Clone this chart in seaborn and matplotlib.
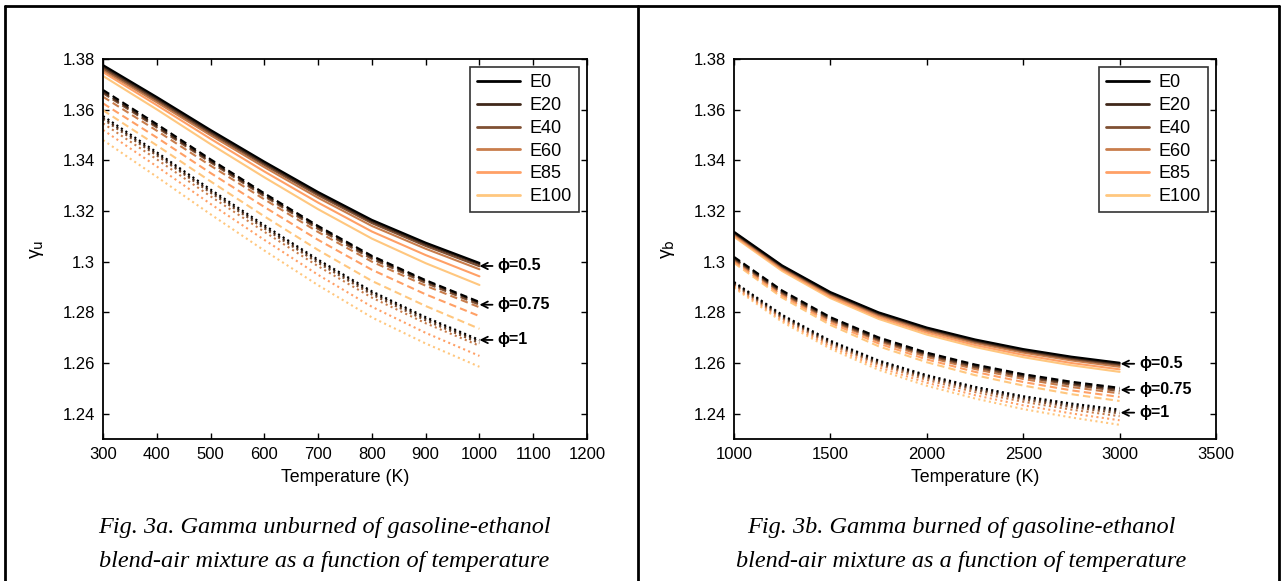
import matplotlib
matplotlib.use("Agg")
import matplotlib.pyplot as plt
import seaborn as sns
import pandas as pd
from matplotlib.lines import Line2D

# ---------------- data ----------------
blends = ["E0", "E20", "E40", "E60", "E85", "E100"]
phis = ["0.5", "0.75", "1"]
blend_colors = ["#000000", "#40281a", "#805033", "#c97d4c", "#ffa066", "#ffc77f"]

# unburned gamma, T = 300..1000 K
T_u = [300, 400, 500, 600, 700, 800, 900, 1000]
gu_phi05 = {
    "E0":   [1.3776, 1.3650, 1.3520, 1.3395, 1.3275, 1.3165, 1.3075, 1.2995],
    "E20":  [1.3770, 1.3644, 1.3514, 1.3389, 1.3269, 1.3159, 1.3069, 1.2990],
    "E40":  [1.3763, 1.3637, 1.3507, 1.3382, 1.3262, 1.3152, 1.3062, 1.2982],
    "E60":  [1.3756, 1.3629, 1.3499, 1.3373, 1.3252, 1.3141, 1.3051, 1.2970],
    "E85":  [1.3748, 1.3618, 1.3485, 1.3356, 1.3233, 1.3119, 1.3026, 1.2942],
    "E100": [1.3733, 1.3601, 1.3464, 1.3333, 1.3207, 1.3091, 1.2994, 1.2908],
}
gu_phi075 = {
    "E0":   [1.3678, 1.3543, 1.3404, 1.3270, 1.3141, 1.3023, 1.2927, 1.2841],
    "E20":  [1.3671, 1.3536, 1.3398, 1.3264, 1.3136, 1.3018, 1.2923, 1.2837],
    "E40":  [1.3665, 1.3530, 1.3392, 1.3258, 1.3129, 1.3011, 1.2916, 1.2830],
    "E60":  [1.3651, 1.3517, 1.3379, 1.3246, 1.3117, 1.3000, 1.2905, 1.2820],
    "E85":  [1.3625, 1.3490, 1.3350, 1.3216, 1.3086, 1.2968, 1.2871, 1.2785],
    "E100": [1.3598, 1.3459, 1.3317, 1.3179, 1.3046, 1.2924, 1.2825, 1.2735],
}
gu_phi1 = {
    "E0":   [1.3575, 1.3432, 1.3285, 1.3144, 1.3008, 1.2883, 1.2781, 1.2691],
    "E20":  [1.3568, 1.3425, 1.3278, 1.3137, 1.3002, 1.2877, 1.2775, 1.2685],
    "E40":  [1.3562, 1.3419, 1.3272, 1.3131, 1.2995, 1.2870, 1.2768, 1.2678],
    "E60":  [1.3546, 1.3404, 1.3258, 1.3118, 1.2982, 1.2858, 1.2757, 1.2668],
    "E85":  [1.3520, 1.3376, 1.3228, 1.3086, 1.2948, 1.2822, 1.2719, 1.2628],
    "E100": [1.3480, 1.3335, 1.3187, 1.3044, 1.2907, 1.2780, 1.2677, 1.2585],
}

# burned gamma, T = 1000..3000 K
T_b = [1000, 1250, 1500, 1750, 2000, 2250, 2500, 2750, 3000]
gb_phi05 = {
    "E0":   [1.3118, 1.2985, 1.2880, 1.2800, 1.2740, 1.2693, 1.2655, 1.2625, 1.2601],
    "E20":  [1.3115, 1.2982, 1.2877, 1.2797, 1.2737, 1.2689, 1.2651, 1.2621, 1.2597],
    "E40":  [1.3112, 1.2979, 1.2873, 1.2793, 1.2733, 1.2685, 1.2647, 1.2616, 1.2592],
    "E60":  [1.3108, 1.2974, 1.2869, 1.2788, 1.2727, 1.2679, 1.2641, 1.2610, 1.2585],
    "E85":  [1.3103, 1.2969, 1.2862, 1.2781, 1.2720, 1.2671, 1.2632, 1.2600, 1.2575],
    "E100": [1.3098, 1.2963, 1.2856, 1.2774, 1.2712, 1.2663, 1.2623, 1.2591, 1.2565],
}
gb_phi075 = {
    "E0":   [1.3019, 1.2886, 1.2781, 1.2701, 1.2641, 1.2594, 1.2556, 1.2526, 1.2502],
    "E20":  [1.3015, 1.2882, 1.2777, 1.2696, 1.2636, 1.2589, 1.2551, 1.2520, 1.2496],
    "E40":  [1.3011, 1.2877, 1.2772, 1.2691, 1.2631, 1.2583, 1.2545, 1.2514, 1.2489],
    "E60":  [1.3007, 1.2873, 1.2767, 1.2686, 1.2624, 1.2576, 1.2537, 1.2505, 1.2480],
    "E85":  [1.3001, 1.2866, 1.2759, 1.2677, 1.2614, 1.2565, 1.2525, 1.2492, 1.2466],
    "E100": [1.2995, 1.2858, 1.2750, 1.2666, 1.2603, 1.2552, 1.2511, 1.2477, 1.2450],
}
gb_phi1 = {
    "E0":   [1.2920, 1.2790, 1.2688, 1.2610, 1.2552, 1.2506, 1.2469, 1.2440, 1.2416],
    "E20":  [1.2916, 1.2786, 1.2683, 1.2605, 1.2547, 1.2500, 1.2463, 1.2433, 1.2409],
    "E40":  [1.2912, 1.2781, 1.2678, 1.2599, 1.2541, 1.2494, 1.2456, 1.2426, 1.2401],
    "E60":  [1.2908, 1.2776, 1.2672, 1.2593, 1.2533, 1.2485, 1.2447, 1.2416, 1.2390],
    "E85":  [1.2902, 1.2769, 1.2664, 1.2583, 1.2522, 1.2473, 1.2433, 1.2401, 1.2374],
    "E100": [1.2897, 1.2762, 1.2656, 1.2573, 1.2510, 1.2460, 1.2418, 1.2385, 1.2356],
}

xticks_u = [300, 400, 500, 600, 700, 800, 900, 1000, 1100, 1200]
xticks_b = [1000, 1500, 2000, 2500, 3000, 3500]
yticks = [1.24, 1.26, 1.28, 1.30, 1.32, 1.34, 1.36, 1.38]
ytick_labels = ["1.24", "1.26", "1.28", "1.3", "1.32", "1.34", "1.36", "1.38"]

phi_labels_u = [("ϕ=0.5", 1.2983), ("ϕ=0.75", 1.2830), ("ϕ=1", 1.2691)]
phi_labels_b = [("ϕ=0.5", 1.2597), ("ϕ=0.75", 1.2494), ("ϕ=1", 1.2404)]

captions = [
    ["Fig. 3a. Gamma unburned of gasoline-ethanol",
     "blend-air mixture as a function of temperature"],
    ["Fig. 3b. Gamma burned of gasoline-ethanol",
     "blend-air mixture as a function of temperature"],
]


def to_long(T, tables):
    rows = []
    for phi, tab in zip(phis, tables):
        for b in blends:
            for t, v in zip(T, tab[b]):
                rows.append({"T": t, "gamma": v, "blend": b, "phi": phi})
    return pd.DataFrame(rows)


df_u = to_long(T_u, [gu_phi05, gu_phi075, gu_phi1])
df_b = to_long(T_b, [gb_phi05, gb_phi075, gb_phi1])

# ---------------- style ----------------
sns.set_theme(style="ticks")
plt.rcParams["font.family"] = ["Liberation Sans", "DejaVu Sans"]
plt.rcParams["text.color"] = "black"
plt.rcParams["axes.labelcolor"] = "black"
plt.rcParams["xtick.color"] = "black"
plt.rcParams["ytick.color"] = "black"
plt.rcParams["xtick.direction"] = "in"
plt.rcParams["ytick.direction"] = "in"
plt.rcParams["xtick.top"] = True
plt.rcParams["ytick.right"] = True

fig = plt.figure(figsize=(12.84, 5.81), dpi=100)
W, H = 1284.0, 581.0
ax1 = fig.add_axes([103 / W, 1 - 439 / H, (587 - 103) / W, (439 - 59) / H])
ax2 = fig.add_axes([734 / W, 1 - 439 / H, (1216 - 734) / W, (439 - 59) / H])

palette = dict(zip(blends, blend_colors))
dashes = {"0.5": "", "0.75": (3.5, 2.0), "1": (1.0, 1.6)}

for ax, df, xt, xlim, ylab, labs, xlab_pos, arrow in [
    (ax1, df_u, xticks_u, (300, 1200), "γ$_{\\mathrm{u}}$", phi_labels_u, 1033, 1000),
    (ax2, df_b, xticks_b, (1000, 3500), "γ$_{\\mathrm{b}}$", phi_labels_b, 3100, 3005),
]:
    sns.lineplot(data=df, x="T", y="gamma", hue="blend", style="phi",
                 palette=palette, dashes=dashes, hue_order=blends[::-1],
                 style_order=phis, legend=False, linewidth=1.5,
                 estimator=None, ax=ax)
    ax.set_xlim(*xlim)
    ax.set_ylim(1.23, 1.38)
    ax.set_xticks(xt)
    ax.set_xticklabels([str(v) for v in xt])
    ax.set_yticks(yticks)
    ax.set_yticklabels(ytick_labels)
    ax.tick_params(labelsize=12, length=4, width=1, colors="black", pad=6)
    ax.set_xlabel("Temperature (K)", fontsize=12.8, labelpad=5, color="black")
    ax.set_ylabel(ylab, fontsize=14, labelpad=12, color="black")
    for s in ax.spines.values():
        s.set_visible(True)
        s.set_color("black")
        s.set_linewidth(1.3)
    for txt, yv in labs:
        ax.annotate(txt, xy=(arrow, yv), xytext=(xlab_pos, yv),
                    fontsize=11.5, fontweight="bold", va="center", ha="left",
                    family=["Liberation Sans", "DejaVu Sans"], color="black",
                    arrowprops=dict(arrowstyle="->", lw=1.3, color="black",
                                    shrinkA=1, shrinkB=0),
                    annotation_clip=False)
    handles = [Line2D([], [], color=c, lw=2) for c in blend_colors]
    leg = ax.legend(handles, blends, loc="upper right", fontsize=13,
                    frameon=True, fancybox=False, edgecolor="black",
                    borderaxespad=0.45, handlelength=2.4, handletextpad=0.5,
                    labelspacing=0.32, borderpad=0.4)
    leg.get_frame().set_linewidth(1.2)
    for t in leg.get_texts():
        t.set_color("black")

# figure frame
frame_kw = dict(transform=fig.transFigure, color="black", lw=2)
fig.add_artist(Line2D([5.5 / W, 1279 / W], [1 - 5.5 / H, 1 - 5.5 / H], **frame_kw))
fig.add_artist(Line2D([5.5 / W, 5.5 / W], [0, 1 - 5.5 / H], **frame_kw))
fig.add_artist(Line2D([1279 / W, 1279 / W], [0, 1 - 5.5 / H], **frame_kw))
fig.add_artist(Line2D([637.5 / W, 637.5 / W], [0, 1 - 5.5 / H], **frame_kw))

# captions
for cx, cap in zip([324, 961], captions):
    for i, line in enumerate(cap):
        fig.text(cx / W, 1 - (527 + 35 * i) / H, line, ha="center", va="center",
                 fontsize=17.5, style="italic", color="black",
                 family=["Liberation Serif", "DejaVu Serif"])

fig.savefig("out.png", dpi=100)
